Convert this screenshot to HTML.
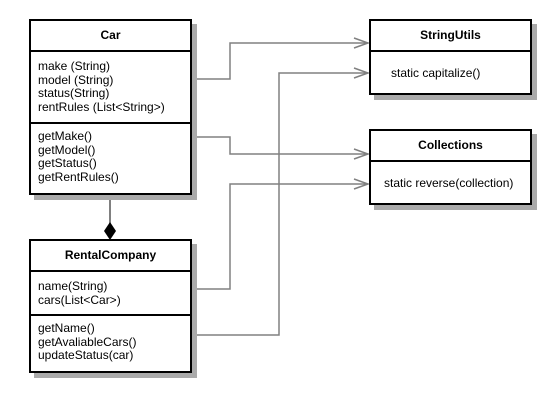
<!DOCTYPE html>
<html><head><meta charset="utf-8"><style>
body{margin:0;background:#fff;width:558px;height:400px;overflow:hidden;position:relative;font-family:"Liberation Sans",Arial,sans-serif;font-size:12px;color:#000}
.box{position:absolute;border:2px solid #000;background:#fff;box-shadow:5px 5px 0 #aaa;box-sizing:border-box}
.h{position:absolute;left:0;right:0;text-align:center;font-weight:bold;font-size:12px}
.sep{position:absolute;left:0;right:0;border-top:2px solid #000}
.t{position:absolute;left:7px;line-height:13.7px;white-space:nowrap}
svg{position:absolute;left:0;top:0}
</style></head><body>
<svg width="558" height="400">
<g fill="none" stroke="#808080" stroke-width="1.5">
<polyline points="192,79 230,79 230,43 368,43"/>
<polyline points="192,137 230,137 230,154 368,154"/>
<polyline points="192,289 230,289 230,184 368,184"/>
<polyline points="192,335 279,335 279,73 368,73"/>
<polyline points="354,38 368,43 354,48"/>
<polyline points="354,68 368,73 354,78"/>
<polyline points="354,149 368,154 354,159"/>
<polyline points="354,179 368,184 354,189"/>
</g>
<line x1="110" y1="196" x2="110" y2="224" stroke="#555" stroke-width="1.5"/>
</svg>
<div class="box" style="left:29px;top:19px;width:163px;height:176px">
<div class="h" style="top:7px">Car</div>
<div class="sep" style="top:29px"></div>
<div class="t" style="top:39px">make (String)<br>model (String)<br>status(String)<br>rentRules (List&lt;String&gt;)</div>
<div class="sep" style="top:101px"></div>
<div class="t" style="top:109px">getMake()<br>getModel()<br>getStatus()<br>getRentRules()</div>
</div>
<div class="box" style="left:29px;top:239px;width:163px;height:134px">
<div class="h" style="top:7px">RentalCompany</div>
<div class="sep" style="top:29px"></div>
<div class="t" style="top:39px">name(String)<br>cars(List&lt;Car&gt;)</div>
<div class="sep" style="top:73px"></div>
<div class="t" style="top:81px">getName()<br>getAvaliableCars()<br>updateStatus(car)</div>
</div>
<svg width="558" height="400" style="pointer-events:none"><polygon points="110,222 116,231 110,240 104,231" fill="#000"/></svg>
<div class="box" style="left:369px;top:19px;width:163px;height:76px">
<div class="h" style="top:7px">StringUtils</div>
<div class="sep" style="top:29px"></div>
<div class="t" style="top:46px;left:20px">static capitalize()</div>
</div>
<div class="box" style="left:369px;top:129px;width:163px;height:76px">
<div class="h" style="top:7px">Collections</div>
<div class="sep" style="top:29px"></div>
<div class="t" style="top:46px;left:13px">static reverse(collection)</div>
</div>
</body></html>
